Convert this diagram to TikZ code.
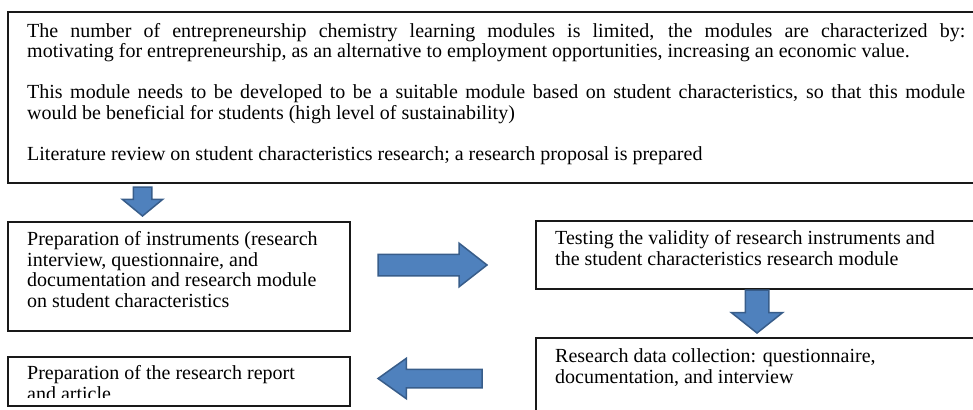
\documentclass[tikz,border=0pt]{standalone}
\usepackage{fontspec}
\setmainfont{Liberation Serif}
\usetikzlibrary{shapes.arrows}
\definecolor{arrowfill}{HTML}{4F81BD}
\definecolor{arrowedge}{HTML}{385D8A}

\begin{document}
\begin{tikzpicture}[x=1pt, y=-1pt,
    stage box/.style={draw=black!90, line width=1.1pt, inner sep=0pt, outer sep=0pt, anchor=north west},
    stage text/.style={inner sep=0pt, anchor=north west, align=left, font=\fontsize{20}{20.5}\selectfont, execute at begin node=\strut},
    block arrow/.style={single arrow, draw=arrowedge, fill=arrowfill, line width=1.5pt, inner xsep=0pt, outer sep=0pt, anchor=tip}]
\useasboundingbox (0,0) rectangle (973,409);
\clip (0,0) rectangle (973,409);

\node[stage box, minimum width=980pt, minimum height=171pt] (intro) at (8,12) {};
\node[stage text, text width=938pt, align=justify] (intro text) at ([shift={(19,10.6)}]intro.north west)
    {The number of entrepreneurship chemistry learning modules is limited, the modules are characterized by:\linebreak
    motivating for entrepreneurship, as an alternative to employment opportunities, increasing an economic value.\\[20.5pt]
    This module needs to be developed to be a suitable module based on student characteristics, so that this module\linebreak
    would be beneficial for students (high level of sustainability)\\[20.5pt]
    Literature review on student characteristics research; a research proposal is prepared};

\node[stage box, minimum width=342pt, minimum height=109pt] (instruments) at (8,222) {};
\node[stage text] (instruments text) at ([shift={(19,9.6)}]instruments.north west)
    {Preparation of instruments (research\\
    interview, questionnaire, and\\
    documentation and research module\\
    on student characteristics};

\node[stage box, minimum width=450pt, minimum height=68pt] (validity) at (536,221) {};
\node[stage text] (validity text) at ([shift={(19,9.6)}]validity.north west)
    {Testing the validity of research instruments and\\
    the student characteristics research module};

\node[stage box, minimum width=450pt, minimum height=100pt] (collection) at (536,338) {};
\node[stage text] (collection text) at ([shift={(19,10.6)}]collection.north west)
    {Research data collection: questionnaire,\\
    documentation, and interview};

\node[stage box, minimum width=342pt, minimum height=49pt] (report) at (8,357) {};
\begin{scope}
    \clip (report.north west) rectangle ([yshift=9pt]report.south east);
    \node[stage text] (report text) at ([shift={(19,8.6)}]report.north west)
        {Preparation of the research report\\
        and article};
\end{scope}

\node[block arrow, rotate=-90, minimum height=29pt, inner ysep=8.5pt,
    single arrow head extend=11pt, single arrow tip angle=101] (to instruments) at (142.5,216) {};
\node[block arrow, minimum height=109pt, inner ysep=10pt,
    single arrow head extend=11pt, single arrow tip angle=76] (to validity) at (487,265) {};
\node[block arrow, rotate=-90, minimum height=43pt, inner ysep=11pt,
    single arrow head extend=14pt, single arrow tip angle=103] (to collection) at (757,333) {};
\node[block arrow, rotate=180, minimum height=104pt, inner ysep=8.5pt,
    single arrow head extend=11pt, single arrow tip angle=71] (to report) at (378,378.5) {};
\end{tikzpicture}
\end{document}
